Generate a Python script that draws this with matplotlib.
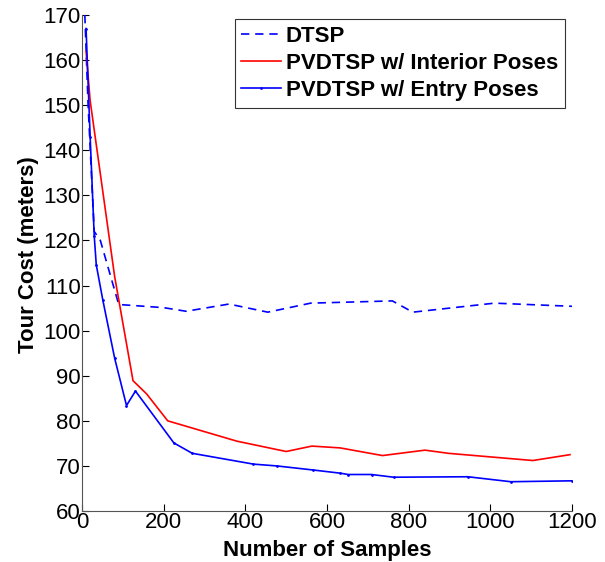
import matplotlib
matplotlib.use("Agg")
import matplotlib.pyplot as plt

plt.rcParams['font.family'] = ['Liberation Sans', 'DejaVu Sans']

# DTSP (dashed)
dtsp_x = [7, 15, 30, 45, 90, 200, 255, 360, 455, 560, 760, 810, 1010, 1200]
dtsp_y = [170, 150, 122, 120, 105.8, 105.1, 104.3, 105.9, 104.1, 106.1, 106.6, 104.1, 106.1, 105.4]

# PVDTSP w/ Interior Poses
int_x = [10, 20, 80, 125, 158, 210, 379, 500, 563, 632, 736, 840, 897, 1104, 1195]
int_y = [162, 151, 112, 88.9, 86.0, 80.0, 75.5, 73.2, 74.4, 74.0, 72.3, 73.5, 72.8, 71.2, 72.5]

# PVDTSP w/ Entry Poses
ent_x = [10, 20, 30, 35, 51, 80, 109, 131, 225, 270, 420, 477, 566, 632, 652, 709, 763, 945, 1050, 1200]
ent_y = [167, 143, 121, 114.6, 106.8, 93.9, 83.4, 86.6, 75.1, 72.8, 70.4, 70.0, 69.1, 68.4, 68.1, 68.1, 67.5, 67.6, 66.5, 66.7]

fig = plt.figure(figsize=(6.05, 5.62), dpi=100)
ax = fig.add_axes([0.1355, 0.0907, 0.81, 0.8826])

ax.plot(dtsp_x, dtsp_y, color='blue', linestyle=(0, (5, 3.5)), lw=1.2, label='DTSP')
ax.plot(int_x, int_y, color='red', lw=1.2, label='PVDTSP w/ Interior Poses')
ax.plot(ent_x, ent_y, color='blue', lw=1.2, marker='.', markersize=2, label='PVDTSP w/ Entry Poses')

ax.set_xlim(0, 1200)
ax.set_ylim(60, 170)
ax.set_xticks(range(0, 1201, 200))
ax.set_yticks(range(60, 171, 10))
ax.spines['top'].set_visible(False)
ax.spines['right'].set_visible(False)
ax.spines['left'].set_color('#555555')
ax.spines['bottom'].set_color('#555555')
ax.tick_params(direction='in', labelsize=16, length=5, pad=1)

ax.set_xlabel('Number of Samples', fontsize=16, fontweight='bold', labelpad=5)
ax.set_ylabel('Tour Cost (meters)', fontsize=16, fontweight='bold')
ax.yaxis.set_label_coords(-0.088, 0.516)

leg = ax.legend(loc='upper right', bbox_to_anchor=(0.985, 0.992),
                prop={'weight': 'bold', 'size': 16}, frameon=True, fancybox=False,
                handlelength=1.8, handletextpad=0.2, borderpad=0.3, labelspacing=0.28,
                borderaxespad=0.0)
leg.get_frame().set_edgecolor('black')
leg.get_frame().set_linewidth(0.8)

fig.savefig('out.png', dpi=100)
